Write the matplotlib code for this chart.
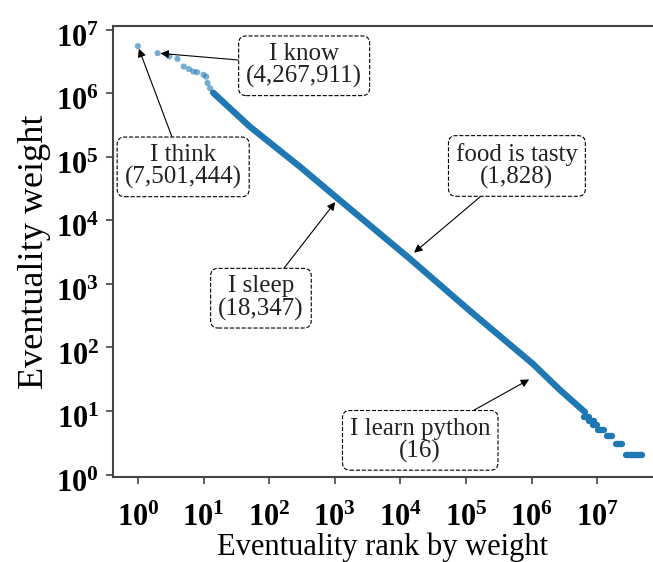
import matplotlib
matplotlib.use("Agg")
import matplotlib.pyplot as plt
import matplotlib.transforms as mtransforms
import numpy as np

plt.rcParams['font.family'] = ['Liberation Serif', 'DejaVu Serif']
plt.rcParams['mathtext.fontset'] = 'custom'
plt.rcParams['mathtext.rm'] = 'Liberation Serif:bold'
plt.rcParams['mathtext.it'] = 'Liberation Serif:bold'
plt.rcParams['mathtext.bf'] = 'Liberation Serif:bold'

# top ranked eventualities (sparse points)
head_rank = [1, 2, 3, 4, 5, 6, 7, 8, 10, 11, 11.5, 12.6]
head_weight = [5.5e6, 4.27e6, 3.8e6, 3.47e6, 2.63e6, 2.4e6, 2.19e6, 2.14e6, 1.95e6, 1.82e6, 1.45e6, 1.2e6]

# dense middle part
body_rank = [14, 51, 295, 1710, 14000, 1.15e5, 1.05e6, 2.71e6, 6.52e6]
body_weight = [1.02e6, 2.97e5, 6.97e4, 1.52e4, 2480, 376, 55, 21.4, 9.6]

# integer weight steps in the tail
tail_weight = [8, 7, 6, 5, 4, 3, 2]
tail_rank_start = [6.3e6, 7.4e6, 8.5e6, 1.02e7, 1.41e7, 1.95e7, 2.75e7]
tail_rank_end = [7.4e6, 8.9e6, 1.0e7, 1.26e7, 1.70e7, 2.40e7, 4.8e7]

# annotated examples: (label, rank, weight, box position)
notes = [
    ("I know\n(4,267,911)", 2, 4.27e6, (0.354, 0.912)),
    ("I think\n(7,501,444)", 1, 5.5e6, (0.130, 0.688)),
    ("food is tasty\n(1,828)", 1.5e4, 2900, (0.748, 0.690)),
    ("I sleep\n(18,347)", 1080, 2.1e4, (0.274, 0.397)),
    ("I learn python\n(16)", 1.0e6, 33, (0.569, 0.082)),
]

blue = "#1f77b4"

fig = plt.figure(figsize=(6.53, 5.62), dpi=100)
ax = fig.add_axes([0.173, 0.151, 0.827, 0.803])

ax.plot(body_rank, body_weight, color=blue, lw=4.6,
        solid_capstyle="round", solid_joinstyle="round")
for w, s, e in zip(tail_weight, tail_rank_start, tail_rank_end):
    ax.plot([s, e], [w, w], color=blue, lw=4.6, solid_capstyle="round")
ax.scatter(head_rank, head_weight, s=20, color=blue, alpha=0.6, edgecolor="none")

for text, r, w, pos in notes:
    ax.annotate(text, xy=(r, w), xytext=pos, textcoords="axes fraction",
                ha="center", va="center", fontsize=18, linespacing=1.0,
                color="#222222",
                bbox=dict(boxstyle="round,pad=0.3", fc="white", ec="black",
                          ls="--", lw=0.8),
                arrowprops=dict(arrowstyle="-|>", color="black", lw=0.8,
                                mutation_scale=12, shrinkA=0, shrinkB=2))

ax.set_xscale("log")
ax.set_yscale("log")
ax.set_xlim(10 ** -0.38, 10 ** 7.85)
ax.set_ylim(10 ** -0.04, 10 ** 7.06)
ax.set_xticks([10 ** i for i in range(8)])
ax.set_yticks([10 ** i for i in range(8)])
ax.xaxis.set_minor_locator(matplotlib.ticker.NullLocator())

fmt = matplotlib.ticker.FuncFormatter(lambda v, p: r"$\mathbf{10^{%d}}$" % round(np.log10(v)))
ax.xaxis.set_major_formatter(fmt)
ax.yaxis.set_major_formatter(fmt)

ax.spines["right"].set_visible(False)
for sp in ["left", "bottom", "top"]:
    ax.spines[sp].set_color("#444444")
    ax.spines[sp].set_linewidth(1.5)

ax.tick_params(axis="both", which="major", length=5, width=1.2, color="#444444",
               labelsize=22)
ax.tick_params(axis="x", pad=14)
ax.tick_params(axis="y", pad=5)
ax.tick_params(axis="y", which="minor", length=3, width=0.8, color="#444444")

# y tick labels sit a little below their ticks in the original
shift = mtransforms.ScaledTranslation(0, -6 / 100, fig.dpi_scale_trans)
for lab in ax.get_yticklabels():
    lab.set_transform(lab.get_transform() + shift)

ax.set_xlabel("Eventuality rank by weight", fontsize=22, labelpad=0)
ax.set_ylabel("Eventuality weight", fontsize=26, labelpad=4)

fig.savefig("out.png", dpi=100)
